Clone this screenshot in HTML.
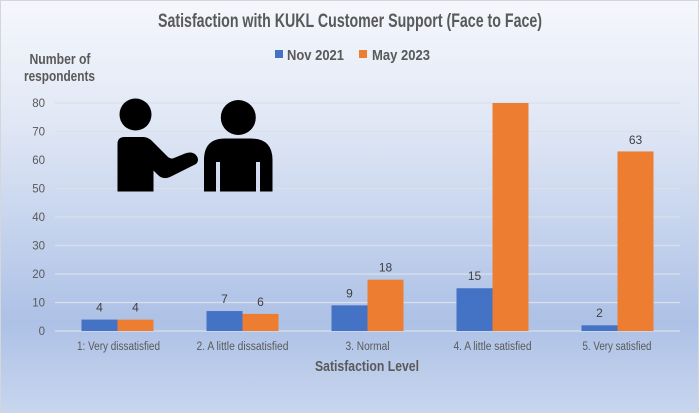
<!DOCTYPE html>
<html>
<head>
<meta charset="utf-8">
<style>
html,body{margin:0;padding:0;}
body{width:699px;height:413px;overflow:hidden;}
svg{display:block;}
text{font-family:"Liberation Sans",Arial,sans-serif;}
</style>
</head>
<body>
<svg width="699" height="413" viewBox="0 0 699 413" xmlns="http://www.w3.org/2000/svg">
<defs>
<linearGradient id="bg" x1="0" y1="0" x2="0" y2="1">
<stop offset="0" stop-color="#f5f7fc"/>
<stop offset="0.3" stop-color="#e0e7f5"/>
<stop offset="0.78" stop-color="#adc1e6"/>
<stop offset="1" stop-color="#c8d6ee"/>
</linearGradient>
</defs>
<rect x="0.5" y="0.5" width="698" height="412" fill="url(#bg)" stroke="#d4d6da" stroke-width="1"/>

<!-- title -->
<text x="350" y="27" text-anchor="middle" font-size="19" font-weight="bold" fill="#595959" textLength="384" lengthAdjust="spacingAndGlyphs">Satisfaction with KUKL Customer Support (Face to Face)</text>

<!-- legend -->
<rect x="275" y="50" width="8" height="8" fill="#4472c4"/>
<text x="287" y="60" font-size="15" font-weight="bold" fill="#595959" textLength="57" lengthAdjust="spacingAndGlyphs">Nov 2021</text>
<rect x="359" y="50" width="8" height="8" fill="#ed7d31"/>
<text x="372" y="60" font-size="15" font-weight="bold" fill="#595959" textLength="58" lengthAdjust="spacingAndGlyphs">May 2023</text>

<!-- y-axis title -->
<text x="60" y="64" text-anchor="middle" font-size="15" font-weight="bold" fill="#595959" textLength="61" lengthAdjust="spacingAndGlyphs">Number of</text>
<text x="59.5" y="81" text-anchor="middle" font-size="15" font-weight="bold" fill="#595959" textLength="71" lengthAdjust="spacingAndGlyphs">respondents</text>

<!-- gridlines -->
<g stroke="#dae0ea" stroke-width="1.3">
<line x1="55" y1="103" x2="680" y2="103"/>
<line x1="55" y1="131.5" x2="680" y2="131.5"/>
<line x1="55" y1="160" x2="680" y2="160"/>
<line x1="55" y1="188.5" x2="680" y2="188.5"/>
<line x1="55" y1="217" x2="680" y2="217"/>
<line x1="55" y1="245.5" x2="680" y2="245.5"/>
<line x1="55" y1="274" x2="680" y2="274"/>
<line x1="55" y1="302.5" x2="680" y2="302.5"/>
<line x1="55" y1="331" x2="680" y2="331"/>
</g>

<!-- y tick labels -->
<g font-size="11.5" fill="#595959" text-anchor="end">
<text x="45" y="107">80</text>
<text x="45" y="135.5">70</text>
<text x="45" y="164">60</text>
<text x="45" y="192.5">50</text>
<text x="45" y="221">40</text>
<text x="45" y="249.5">30</text>
<text x="45" y="278">20</text>
<text x="45" y="306.5">10</text>
<text x="45" y="335">0</text>
</g>

<!-- icon: people -->
<g fill="#000">
<circle cx="135.5" cy="114.5" r="16"/>
<path d="M117.5,191.5 L117.5,144 Q117.5,137 124.5,137 L143,137 Q148,137 152,141 L168,157 Q171,159.5 174,158 L185,153.5 Q192,151 196,155 Q200,160 196,164 L170,177 Q163,180 158,175 L153.5,170.5 L153.5,191.5 Z"/>
<circle cx="238.3" cy="117.5" r="17.5"/>
<path d="M204,191.5 L204,160 Q204,138.5 225,138.5 L251,138.5 Q272.5,138.5 272.5,160 L272.5,191.5 L260,191.5 L260,162 L256,162 L256,191.5 L220,191.5 L220,162 L216,162 L216,191.5 Z"/>
</g>

<!-- bars -->
<g>
<rect x="81.5" y="319.6" width="36" height="11.4" fill="#4472c4"/>
<rect x="117.5" y="319.6" width="36" height="11.4" fill="#ed7d31"/>
<rect x="206.5" y="311.05" width="36" height="19.95" fill="#4472c4"/>
<rect x="242.5" y="313.9" width="36" height="17.1" fill="#ed7d31"/>
<rect x="331.5" y="305.35" width="36" height="25.65" fill="#4472c4"/>
<rect x="367.5" y="279.7" width="36" height="51.3" fill="#ed7d31"/>
<rect x="456.5" y="288.25" width="36" height="42.75" fill="#4472c4"/>
<rect x="492.5" y="103" width="36" height="228" fill="#ed7d31"/>
<rect x="581.5" y="325.3" width="36" height="5.7" fill="#4472c4"/>
<rect x="617.5" y="151.45" width="36" height="179.55" fill="#ed7d31"/>
</g>

<!-- data labels -->
<g font-size="12" fill="#404040" text-anchor="middle">
<text x="99.5" y="311.5">4</text>
<text x="135.5" y="311.5">4</text>
<text x="224.5" y="303">7</text>
<text x="260.5" y="306">6</text>
<text x="349.5" y="297.5">9</text>
<text x="385.5" y="271.7">18</text>
<text x="474.5" y="280">15</text>
<text x="599.5" y="317">2</text>
<text x="635.5" y="144">63</text>
</g>

<!-- category labels -->
<g font-size="11.5" fill="#595959" text-anchor="middle">
<text x="118.5" y="350" textLength="83" lengthAdjust="spacingAndGlyphs">1: Very dissatisfied</text>
<text x="242.5" y="350" textLength="92" lengthAdjust="spacingAndGlyphs">2. A little dissatisfied</text>
<text x="367.5" y="350" textLength="44" lengthAdjust="spacingAndGlyphs">3. Normal</text>
<text x="492.5" y="350" textLength="78" lengthAdjust="spacingAndGlyphs">4. A little satisfied</text>
<text x="617" y="350" textLength="69" lengthAdjust="spacingAndGlyphs">5. Very satisfied</text>
</g>

<!-- x axis title -->
<text x="367" y="371" text-anchor="middle" font-size="15" font-weight="bold" fill="#595959" textLength="104" lengthAdjust="spacingAndGlyphs">Satisfaction Level</text>
</svg>
</body>
</html>
